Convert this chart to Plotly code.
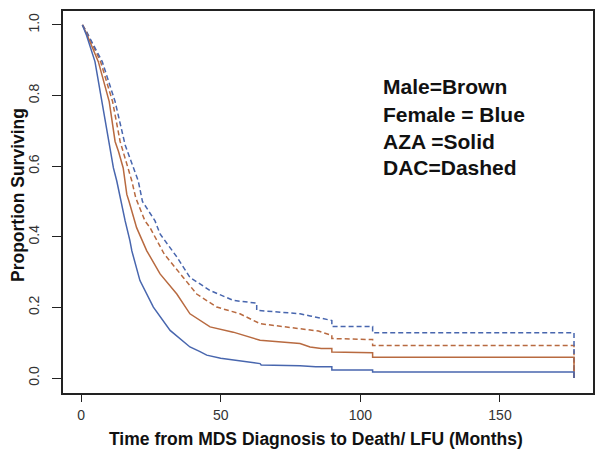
import plotly.graph_objects as go

# ---- data (months, proportion surviving) ----
female_aza_t = [0.5, 2.0, 5.0, 7.4, 9.8, 11.6, 12.8, 14.0, 15.8, 17.5, 18.2, 21.1, 25.9, 31.9, 39.0, 42.6,
                45.0, 50.0, 54.5, 64.1, 64.5, 78.4, 84.0, 89.8, 89.8, 104.4, 104.4, 176.5, 176.5]
female_aza_s = [1.0, 0.97, 0.896, 0.783, 0.670, 0.595, 0.558, 0.51, 0.445, 0.389, 0.36, 0.276, 0.201, 0.135, 0.088, 0.075,
                0.065, 0.056, 0.051, 0.041, 0.037, 0.035, 0.032, 0.032, 0.0225, 0.0225, 0.017, 0.017, 0.0]

male_aza_t = [0.5, 2.0, 6.2, 10.1, 12.2, 13.4, 15.1, 16.4, 17.2, 19.3, 19.9, 23.5, 24.7, 28.3, 34.3, 39.0,
              46.2, 54.5, 64.1, 78.4, 82.0, 86.0, 89.8, 89.8, 104.4, 104.4, 176.5, 176.5]
male_aza_s = [1.0, 0.975, 0.896, 0.783, 0.670, 0.642, 0.595, 0.52, 0.50, 0.445, 0.426, 0.361, 0.345, 0.295, 0.238, 0.182,
              0.145, 0.130, 0.107, 0.098, 0.088, 0.084, 0.084, 0.074, 0.072, 0.059, 0.059, 0.0]

male_dac_t = [0.5, 2.0, 7.0, 11.3, 14.0, 15.1, 16.9, 18.2, 19.6, 22.9, 24.7, 29.8, 36.6, 41.4, 48.6, 56.9,
              64.1, 78.4, 85.0, 89.8, 89.8, 104.4, 104.4, 176.5, 176.5]
male_dac_s = [1.0, 0.98, 0.896, 0.783, 0.670, 0.642, 0.595, 0.558, 0.51, 0.445, 0.426, 0.351, 0.285, 0.238, 0.201, 0.182,
              0.154, 0.141, 0.133, 0.121, 0.112, 0.109, 0.092, 0.092, 0.0]

female_dac_t = [0.5, 2.0, 7.6, 12.2, 15.8, 18.7, 20.5, 22.0, 26.5, 28.3, 34.3, 39.0, 46.2, 54.5, 62.9, 62.9,
                78.4, 82.0, 86.0, 89.8, 89.8, 104.4, 104.4, 176.5, 176.5]
female_dac_s = [1.0, 0.98, 0.896, 0.783, 0.66, 0.595, 0.558, 0.50, 0.445, 0.408, 0.343, 0.285, 0.248, 0.220, 0.212, 0.192,
                0.182, 0.176, 0.170, 0.163, 0.146, 0.146, 0.128, 0.128, 0.0]

x_ticks = [0, 50, 100, 150]
y_ticks = [0.0, 0.2, 0.4, 0.6, 0.8, 1.0]
y_tick_text = ["0.0", "0.2", "0.4", "0.6", "0.8", "1.0"]
legend_lines = ["Male=Brown", "Female = Blue", "AZA =Solid", "DAC=Dashed"]

BLUE = "#4866ae"
BROWN = "#b86a40"

fig = go.Figure()
series = [
    (male_dac_t, male_dac_s, BROWN, "5px,3px"),
    (female_dac_t, female_dac_s, BLUE, "5px,3px"),
    (male_aza_t, male_aza_s, BROWN, "solid"),
    (female_aza_t, female_aza_s, BLUE, "solid"),
]
for t, s, c, d in series:
    fig.add_trace(go.Scatter(x=t, y=s, mode="lines",
                             line=dict(color=c, width=1.5, dash=d),
                             showlegend=False, hoverinfo="skip"))

axis_font = dict(family="Liberation Sans, Arial, sans-serif", size=14, color="#333333")
fig.update_xaxes(range=[-6.45, 183.3], tickvals=x_ticks, ticktext=[str(v) for v in x_ticks],
                 ticks="outside", ticklen=7, tickwidth=1.2, tickcolor="#222",
                 showline=True, linecolor="#222", linewidth=1.5, mirror=True,
                 showgrid=False, zeroline=False, tickfont=axis_font, ticklabelstandoff=1)
fig.update_yaxes(range=[-0.0423, 1.0394], tickvals=y_ticks, ticktext=y_tick_text,
                 ticks="outside", ticklen=9, tickwidth=1.2, tickcolor="#222",
                 showline=True, linecolor="#222", linewidth=1.5, mirror=True,
                 showgrid=False, zeroline=False, tickfont=axis_font, tickangle=-90,
                 ticklabelstandoff=8)

title_font = dict(family="Liberation Sans, Arial, sans-serif", size=17.5, color="#111111")
annotations = [
    dict(text="<b>Time from MDS Diagnosis to Death/ LFU (Months)</b>", xref="paper", yref="paper",
         x=(316 - 63) / 530, y=(393 - 439) / 384, xanchor="center", yanchor="middle",
         showarrow=False, font=title_font),
    dict(text="<b>Proportion Surviving</b>", xref="paper", yref="paper",
         x=(18 - 63) / 530, y=(393 - 194) / 384, xanchor="center", yanchor="middle",
         textangle=-90, showarrow=False, font=title_font),
]
legend_y = [85, 113, 140, 166.4]
for txt, yc in zip(legend_lines, legend_y):
    annotations.append(dict(text="<b>" + txt + "</b>", xref="paper", yref="paper",
                            x=(381 - 63) / 530, y=(393 - yc) / 384, xanchor="left", yanchor="middle",
                            showarrow=False,
                            font=dict(family="Liberation Sans, Arial, sans-serif", size=21, color="#111111")))

# the page body adds an 8px margin, so the figure is sized/offset to keep the plot area at 63..593 x 9..393
fig.update_layout(width=588, height=442, margin=dict(l=55, r=3, t=1, b=57),
                  plot_bgcolor="white", paper_bgcolor="white", annotations=annotations)

fig.write_html("out.html")
